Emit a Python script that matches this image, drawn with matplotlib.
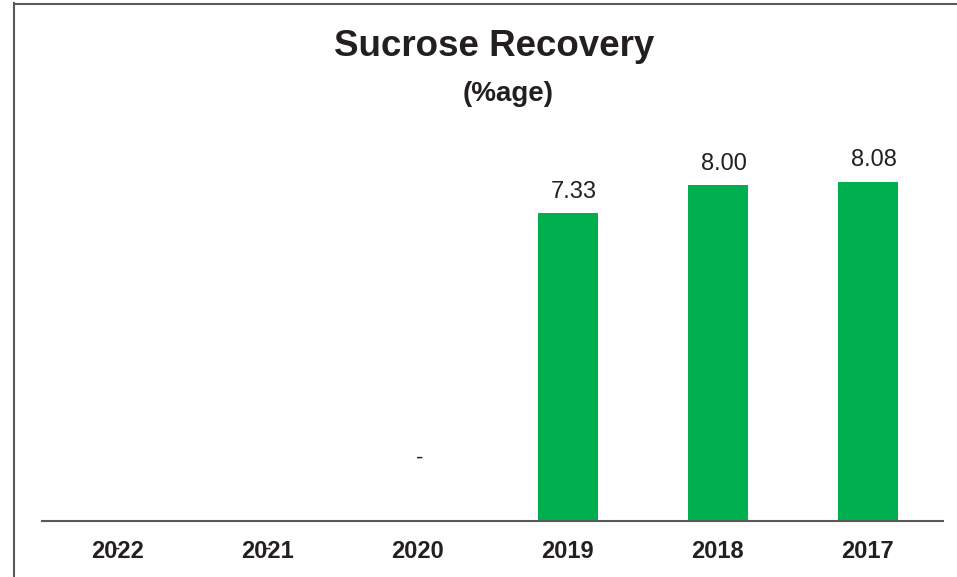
import matplotlib
matplotlib.use("Agg")
import matplotlib.pyplot as plt
from matplotlib.lines import Line2D

plt.rcParams['font.family'] = ['Liberation Sans', 'DejaVu Sans']

categories = ["2022", "2021", "2020", "2019", "2018", "2017"]
values = [0, 0, 0, 7.33, 8.00, 8.08]
labels = ["-", "-", "-", "7.33", "8.00", "8.08"]

text_color = "#231f20"
green = "#00b050"

fig = plt.figure(figsize=(9.57, 5.77), dpi=100)
W, H = 957, 577
ax = fig.add_axes([42 / W, 1 - 521 / H, (943 - 42) / W, (521 - 101) / H])

x = list(range(len(categories)))
ax.bar(x, values, width=0.4, color=green, zorder=2)
ax.set_xlim(-0.5, len(categories) - 0.5)
ax.set_ylim(0, 10)

for i, (v, lab) in enumerate(zip(values, labels)):
    if v > 0:
        ax.text(i + 0.04, v + 0.25, lab, ha="center", va="bottom", fontsize=17, color=text_color)
    elif i == 2:
        ax.text(i + 0.015, 1.5, lab, ha="center", va="center", fontsize=16, color=text_color)
    else:
        ax.text(i, -0.68, lab, ha="center", va="center", fontsize=16, color=text_color)

ax.set_xticks(x)
ax.set_xticklabels(categories, fontsize=17, fontweight="bold", color=text_color)
ax.tick_params(axis="x", length=0, pad=14)
ax.set_yticks([])
for s in ["top", "right", "left"]:
    ax.spines[s].set_visible(False)
ax.spines["bottom"].set_color("#595959")
ax.spines["bottom"].set_linewidth(1.5)

# outer frame lines (left and top)
fig.add_artist(Line2D([14 / W, 14 / W], [0, 1 - 3 / H], transform=fig.transFigure, color="#595959", lw=1.5))
fig.add_artist(Line2D([14 / W, 1], [1 - 3.5 / H, 1 - 3.5 / H], transform=fig.transFigure, color="#595959", lw=1.5))

fig.text(494 / W, 1 - 46 / H, "Sucrose Recovery", ha="center", va="center",
         fontsize=26.5, fontweight="bold", color=text_color)
fig.text(508 / W, 1 - 94 / H, "(%age)", ha="center", va="center",
         fontsize=20, fontweight="bold", color=text_color)

fig.savefig("out.png", dpi=100)
